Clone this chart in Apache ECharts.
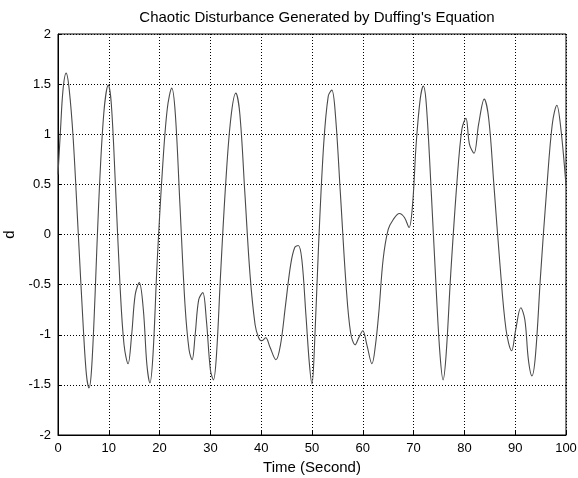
<!DOCTYPE html>
<html>
<head>
<meta charset="utf-8">
<script src="https://cdn.jsdelivr.net/npm/echarts@6/dist/echarts.min.js"></script>
<style>
html,body{margin:0;padding:0;background:#fff;}
#chart{width:578px;height:478px;}
</style>
</head>
<body>
<div id="chart"></div>
<script>
var titleText = "Chaotic Disturbance Generated by Duffing's Equation";
var xAxisName = "Time (Second)";
var yAxisName = "d";
var xTicks = [0, 10, 20, 30, 40, 50, 60, 70, 80, 90, 100];
var yTicks = [-2, -1.5, -1, -0.5, 0, 0.5, 1, 1.5, 2];

var timeValues = [
  0, 0.5, 1.0, 1.6, 2.2, 3.0, 4.0, 5.0, 5.6, 6.1, 6.6, 7.3, 8.0, 9.0, 9.9,
  10.5, 11.3, 12.2, 13.0, 13.8, 14.5, 15.2, 16.0, 16.8, 17.5, 18.1, 18.7, 19.5,
  20.5, 21.5, 22.4, 23.1, 24.0, 25.0, 25.8, 26.4, 27.0, 27.7, 28.5, 29.2,
  30.0, 30.6, 31.2, 32.0, 33.0, 34.0, 35.0, 35.8, 36.8, 37.8, 38.8, 39.5,
  40.1, 40.9, 41.7, 42.9, 43.8, 44.8, 45.8, 46.6, 47.3, 48.0, 48.8, 49.5,
  50.0, 50.5, 51.3, 52.3, 53.2, 53.9, 54.6, 55.6, 56.7, 57.6, 58.5, 59.2,
  60.0, 60.8, 61.8, 62.5, 63.2, 64.0, 65.0, 66.0, 67.2, 68.2, 69.1, 69.8,
  70.5, 71.3, 71.9, 72.5, 73.5, 74.5, 75.2, 75.8, 76.4, 77.3, 78.5, 79.5,
  80.3, 81.0, 81.9, 82.8, 83.9, 84.8, 85.8, 87.0, 88.2, 89.3,
  90.1, 91.1, 91.9, 92.6, 93.3, 94.0, 95.0, 96.2, 97.3, 98.2, 99.0, 100
];
var dValues = [
  0.6, 1.05, 1.45, 1.61, 1.45, 0.95, 0.0, -0.95, -1.4, -1.53, -1.35, -0.6, 0.3, 1.2, 1.49,
  1.3, 0.5, -0.5, -1.1, -1.29, -1.0, -0.6, -0.48, -0.75, -1.3, -1.48, -1.2, -0.3,
  0.6, 1.25, 1.46, 1.2, 0.3, -0.7, -1.15, -1.25, -1.0, -0.65, -0.58, -0.85,
  -1.35, -1.45, -1.2, -0.4, 0.5, 1.15, 1.41, 1.2, 0.4, -0.4, -0.9, -1.03,
  -1.06, -1.03, -1.12, -1.25, -1.1, -0.7, -0.3, -0.13, -0.11, -0.25, -0.8, -1.3,
  -1.49, -1.1, -0.1, 0.9, 1.38, 1.44, 1.2, 0.4, -0.5, -0.98, -1.1, -1.03,
  -0.96, -1.1, -1.29, -1.1, -0.75, -0.25, 0.05, 0.15, 0.21, 0.17, 0.07, 0.3,
  0.9, 1.35, 1.48, 1.3, 0.4, -0.6, -1.2, -1.45, -1.2, -0.4, 0.5, 1.05,
  1.16, 0.9, 0.81, 1.1, 1.35, 1.15, 0.5, -0.3, -0.95, -1.16,
  -0.95, -0.73, -0.85, -1.25, -1.41, -1.2, -0.4, 0.45, 1.1, 1.29, 1.05, 0.49
];

var seriesData = timeValues.map(function (t, i) { return [t, dValues[i]]; });
var font = "'Liberation Sans', Arial, sans-serif";

var chart = echarts.init(document.getElementById('chart'), null, {renderer: 'canvas'});
chart.setOption({
  animation: false,
  backgroundColor: '#ffffff',
  title: {
    text: titleText,
    left: 312, top: 5, textAlign: 'center',
    textStyle: {fontFamily: font, fontSize: 15, fontWeight: 'normal', color: '#000'}
  },
  grid: {left: 58, right: 12, top: 34, bottom: 43, containLabel: false, outerBoundsMode: 'none',
         show: true, borderColor: '#000', borderWidth: 1, backgroundColor: '#fff'},
  xAxis: {
    type: 'value', min: xTicks[0], max: xTicks[xTicks.length - 1], interval: 10,
    name: xAxisName, nameLocation: 'middle', nameGap: 22,
    nameTextStyle: {fontFamily: font, fontSize: 15, color: '#000'},
    axisLine: {show: true, onZero: false, lineStyle: {color: '#000', width: 1}},
    axisTick: {show: true, inside: true, length: 4, lineStyle: {color: '#000'}},
    axisLabel: {fontFamily: font, fontSize: 13, color: '#000', margin: 7},
    splitLine: {show: true, lineStyle: {color: '#000', type: [1, 2], width: 1}}
  },
  yAxis: {
    type: 'value', min: yTicks[0], max: yTicks[yTicks.length - 1], interval: 0.5,
    name: yAxisName, nameLocation: 'middle', nameGap: 37, nameRotate: 90,
    nameTextStyle: {fontFamily: font, fontSize: 15, color: '#000'},
    axisLine: {show: true, onZero: false, lineStyle: {color: '#000', width: 1}},
    axisTick: {show: true, inside: true, length: 4, lineStyle: {color: '#000'}},
    axisLabel: {fontFamily: font, fontSize: 13, color: '#000', margin: 7},
    splitLine: {show: true, lineStyle: {color: '#000', type: [1, 2], width: 1}}
  },
  series: [{
    type: 'line', data: seriesData, showSymbol: false, smooth: 0.35,
    lineStyle: {color: '#4a4a4a', width: 1.1}
  }]
});
</script>
</body>
</html>
